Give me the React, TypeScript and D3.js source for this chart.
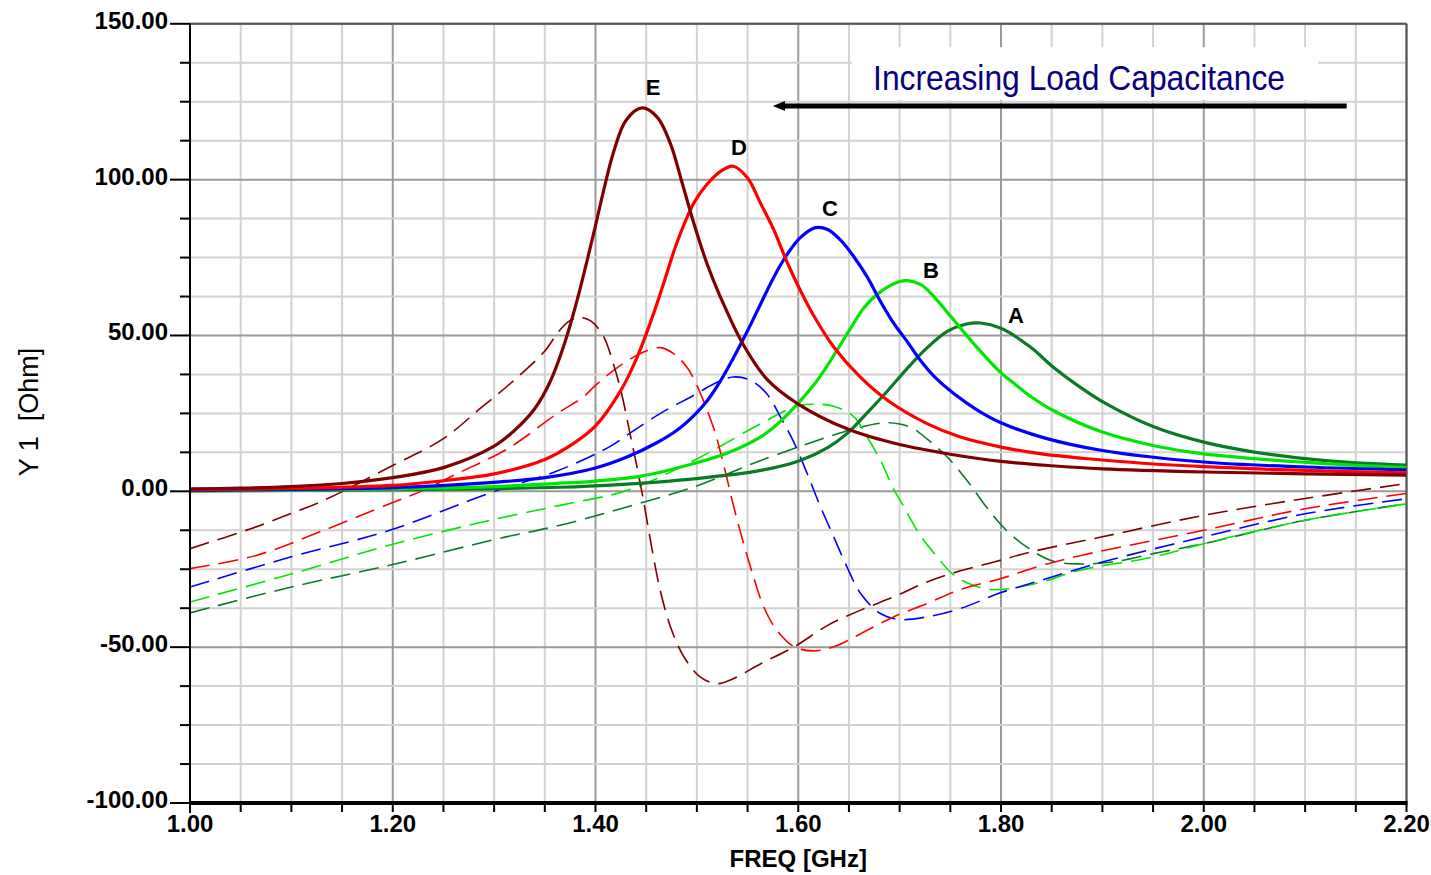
import React from "react";
import * as d3 from "d3";

// ---------- data (freq GHz, Ohm) ----------
const X_TICKS = [1.0, 1.2, 1.4, 1.6, 1.8, 2.0, 2.2];
const Y_TICKS = [-100, -50, 0, 50, 100, 150];

const E_RE: [number, number][] = [
  [1.0, 0.8], [1.05, 1.0], [1.1, 1.5], [1.15, 2.5], [1.2, 4.4], [1.25, 7.6], [1.3, 14.5], [1.32, 19.5],
  [1.34, 26.5], [1.355, 35], [1.37, 48], [1.382, 61.5], [1.398, 82.5], [1.408, 96.5], [1.418, 109], [1.43, 119],
  [1.446, 123], [1.461, 120], [1.474, 111.5], [1.485, 99.5], [1.497, 86], [1.51, 73], [1.523, 62.5],
  [1.545, 47.5], [1.569, 36], [1.6, 28], [1.65, 19.8], [1.7, 15], [1.75, 11.9], [1.8, 9.6],
  [1.85, 8.2], [1.9, 7.2], [2.0, 6.2], [2.1, 5.6], [2.2, 5.2],
];
const D_RE: [number, number][] = [
  [1.0, 0.5], [1.1, 0.9], [1.2, 1.9], [1.25, 3.4], [1.3, 5.6], [1.35, 10.2], [1.378, 15.3], [1.4, 21],
  [1.425, 32.4], [1.441, 43], [1.454, 54], [1.467, 66.5], [1.48, 79.5], [1.497, 92.5], [1.51, 98.5],
  [1.523, 102.6], [1.536, 104.3], [1.55, 100.5], [1.563, 92.3], [1.576, 83.8], [1.589, 73.5], [1.602, 64.5],
  [1.615, 56.5], [1.635, 46.3], [1.661, 36.7], [1.688, 29.2], [1.727, 21.7], [1.76, 17.4], [1.8, 14.2],
  [1.84, 12.0], [1.88, 10.6], [1.94, 9.0], [2.0, 7.9], [2.1, 6.7], [2.2, 5.9],
];
const C_RE: [number, number][] = [
  [1.0, 0.3], [1.1, 0.6], [1.2, 1.2], [1.3, 2.9], [1.35, 4.4], [1.4, 7.5], [1.431, 11], [1.46, 15.5],
  [1.48, 19.5], [1.497, 24.3], [1.51, 29], [1.523, 35.3], [1.536, 42.8], [1.55, 51.5], [1.563, 60.2],
  [1.576, 68.8], [1.589, 76], [1.602, 81.4], [1.617, 84.6], [1.629, 84.0], [1.642, 80.5], [1.655, 75.2],
  [1.668, 68.8], [1.681, 61], [1.694, 54], [1.708, 47.8], [1.721, 41.8], [1.734, 36.9], [1.754, 31.2],
  [1.777, 26], [1.8, 22], [1.84, 17.4], [1.9, 13.1], [2.0, 9.4], [2.1, 7.8], [2.2, 6.9],
];
const B_RE: [number, number][] = [
  [1.0, 0.2], [1.1, 0.4], [1.2, 0.8], [1.3, 1.5], [1.36, 2.5], [1.4, 3.3], [1.444, 4.8], [1.497, 8.9],
  [1.53, 12.3], [1.563, 17.5], [1.575, 20.3], [1.589, 24.5], [1.615, 34], [1.629, 40.5], [1.652, 52.5],
  [1.665, 59], [1.681, 64], [1.7, 67.3], [1.708, 67.6], [1.721, 66.3], [1.734, 62.4], [1.752, 55.5],
  [1.773, 47.4], [1.8, 38], [1.813, 34.6], [1.829, 30.5], [1.851, 26], [1.9, 19], [1.95, 14.7],
  [2.0, 12], [2.1, 9.3], [2.2, 7.6],
];
const A_RE: [number, number][] = [
  [1.0, 0.1], [1.1, 0.3], [1.2, 0.5], [1.3, 0.8], [1.365, 1.3], [1.415, 2.0], [1.497, 4.0], [1.563, 6.7],
  [1.602, 9.9], [1.629, 14], [1.648, 18.5], [1.668, 25.2], [1.688, 32.2], [1.708, 39.6], [1.727, 46],
  [1.747, 51.3], [1.765, 53.6], [1.78, 54], [1.8, 52.3], [1.829, 46.3], [1.851, 40], [1.879, 33.2],
  [1.9, 28.8], [1.95, 20.8], [2.0, 15.8], [2.05, 12.6], [2.1, 10.5], [2.15, 9.1], [2.2, 8.4],
];

const E_IM: [number, number][] = [
  [1.0, -18.4], [1.06, -12], [1.095, -7.7], [1.132, -2.9], [1.197, 7.8], [1.25, 16.9], [1.286, 26.5],
  [1.316, 34.6], [1.35, 45], [1.363, 51], [1.374, 54.6], [1.385, 55.8], [1.396, 54.5], [1.408, 49.6],
  [1.418, 40.5], [1.426, 31], [1.434, 18.6], [1.443, 4.5], [1.449, -6], [1.456, -19], [1.464, -32],
  [1.474, -43.5], [1.487, -53], [1.5035, -59.6], [1.52, -61.7], [1.536, -60.1], [1.563, -55.3],
  [1.596, -49.9], [1.629, -43], [1.661, -38.2], [1.694, -33.9], [1.727, -29.1], [1.76, -25.5],
  [1.793, -22.7], [1.83, -19.4], [1.9, -14.6], [2.0, -7.7], [2.1, -2.3], [2.2, 2.5],
];
const D_IM: [number, number][] = [
  [1.0, -24.8], [1.066, -20.5], [1.132, -12.5], [1.197, -4], [1.23, 0.3], [1.263, 5.6], [1.313, 13.6],
  [1.362, 24.9], [1.388, 30.3], [1.4, 34], [1.425, 40.5], [1.4475, 44.7], [1.464, 46.1], [1.477, 44.2],
  [1.49, 39.9], [1.5, 34], [1.5166, 20.2], [1.5265, 8.4], [1.5364, -5], [1.5463, -17], [1.5545, -26],
  [1.566, -37.1], [1.579, -44.6], [1.596, -49.9], [1.615, -51.2], [1.635, -49.9], [1.6615, -45.7],
  [1.694, -40.3], [1.727, -36], [1.76, -31.5], [1.8, -28], [1.84, -23.8], [1.88, -20.5], [2.0, -12.5],
  [2.1, -5.6], [2.2, -0.7],
];
const C_IM: [number, number][] = [
  [1.0, -30.7], [1.099, -21.1], [1.197, -12.5], [1.296, -0.5], [1.362, 6.5], [1.415, 14.5], [1.431, 18],
  [1.464, 25], [1.497, 30.8], [1.517, 34.5], [1.536, 36.7], [1.553, 35.6], [1.569, 31.3], [1.5825, 23.8],
  [1.5956, 15.8], [1.6088, 5.7], [1.622, -5], [1.635, -14.6], [1.648, -24.2], [1.6615, -32.8],
  [1.681, -39.2], [1.699, -41.1], [1.727, -40.3], [1.76, -37.6], [1.8, -32.5], [1.839, -28.6],
  [1.9, -22.7], [2.0, -14.6], [2.1, -7.2], [2.2, -2.4],
];
const B_IM: [number, number][] = [
  [1.0, -35.5], [1.1, -26.5], [1.2, -17], [1.3, -9], [1.365, -4.5], [1.431, 0.3], [1.497, 9.9],
  [1.563, 21.7], [1.596, 27], [1.615, 28], [1.638, 27], [1.655, 23.9], [1.668, 17.4], [1.681, 10],
  [1.694, 0.8], [1.7025, -4], [1.72, -14], [1.737, -21], [1.752, -26.5], [1.77, -29.8], [1.79, -31.5],
  [1.81, -31.2], [1.839, -29.2], [1.878, -25.3], [1.95, -21.1], [2.0, -16.8], [2.1, -9.3], [2.2, -4.0],
];
const A_IM: [number, number][] = [
  [1.0, -39], [1.1, -30.7], [1.2, -23.5], [1.3, -15.5], [1.365, -10.9], [1.431, -5], [1.497, 1.4],
  [1.563, 9.9], [1.629, 17.4], [1.6615, 20.6], [1.685, 22], [1.7, 21.6], [1.714, 20], [1.727, 16.8],
  [1.747, 11], [1.7667, 3.4], [1.786, -5.2], [1.806, -12.7], [1.826, -18], [1.85, -22.3], [1.8785, -23.3],
  [1.91, -22.7], [1.95, -20], [2.0, -16.8], [2.1, -9.3], [2.2, -4.0],
];

const SERIES = [
  { name: "A", color: "#0b7a26", re: A_RE, im: A_IM, label: [1.8148, 56.6] },
  { name: "B", color: "#00e600", re: B_RE, im: B_IM, label: [1.731, 71.0] },
  { name: "C", color: "#0000ff", re: C_RE, im: C_IM, label: [1.6313, 90.9] },
  { name: "D", color: "#ff0000", re: D_RE, im: D_IM, label: [1.5416, 110.5] },
  { name: "E", color: "#7f0000", re: E_RE, im: E_IM, label: [1.4567, 129.7] },
];

const ANNOTATION = "Increasing Load Capacitance";
const X_TITLE = "FREQ [GHz]";
const Y_TITLE = "Y 1  [Ohm]";

export default function App() {
  const W = 1431;
  const H = 875;
  const x = d3.scaleLinear().domain([1.0, 2.2]).range([190, 1406.5]);
  const y = d3.scaleLinear().domain([-100, 150]).range([803, 23.8]);
  const line = d3
    .line<[number, number]>()
    .x((d) => x(d[0]))
    .y((d) => y(d[1]))
    .curve(d3.curveCatmullRom.alpha(0.5));

  const xMinor = d3.range(1.0, 2.2001, 0.05);
  const yMinor = d3.range(-100, 150.001, 12.5);
  const font = "'Liberation Sans', Arial, sans-serif";
  const [x0, x1] = x.range();
  const [y0, y1] = y.range();

  return (
    <svg
      width={W}
      height={H}
      style={{ position: "absolute", left: 0, top: 0, background: "#fff" }}
      fontFamily={font}
    >
      <defs>
        <clipPath id="plot">
          <rect x={x0} y={y1} width={x1 - x0} height={y0 - y1} />
        </clipPath>
      </defs>
      <rect x={0} y={0} width={W} height={H} fill="#fff" />
      {/* grid */}
      {xMinor.map((v, i) => (
        <line key={"gx" + i} x1={x(v)} x2={x(v)} y1={y1} y2={y0}
          stroke={i % 4 === 0 ? "#9a9a9a" : "#d2d2d2"} strokeWidth={2} />
      ))}
      {yMinor.map((v, i) => (
        <line key={"gy" + i} x1={x0} x2={x1} y1={y(v)} y2={y(v)}
          stroke={i % 4 === 0 ? "#9a9a9a" : "#d2d2d2"} strokeWidth={2} />
      ))}
      {/* frame */}
      <line x1={x0} x2={x1} y1={y1} y2={y1} stroke="#555" strokeWidth={2} />
      <line x1={x1} x2={x1} y1={y1} y2={y0} stroke="#555" strokeWidth={2} />

      {/* annotation box behind curves */}
      <rect x={x(1.653)} y={y(142.5)} width={x(2.1127) - x(1.653)} height={y(125.5) - y(142.5)} fill="#fff" />

      <g clipPath="url(#plot)">
        {SERIES.map((s) => (
          <path key={"im" + s.name} d={line(s.im) || ""} fill="none" stroke={s.color}
            strokeWidth={1.6} strokeDasharray="20,9" />
        ))}
        {SERIES.map((s) => (
          <path key={"re" + s.name} d={line(s.re) || ""} fill="none" stroke={s.color}
            strokeWidth={3.2} strokeLinejoin="round" />
        ))}
      </g>

      {/* annotation text & arrow */}
      <text x={x(1.877)} y={y(128.7)} textAnchor="middle" fontSize={35} fill="#0a0080"
        textLength={412} lengthAdjust="spacingAndGlyphs">{ANNOTATION}</text>
      <line x1={x(2.141)} x2={x(1.585)} y1={y(123.6)} y2={y(123.6)} stroke="#000" strokeWidth={5} />
      <path d={`M${x(1.575)},${y(123.6)} l12,-5 l0,10 z`} fill="#000" />

      {/* curve labels */}
      {SERIES.map((s) => (
        <text key={"lb" + s.name} x={x(s.label[0])} y={y(s.label[1])} dy="0.36em"
          textAnchor="middle" fontSize={22} fontWeight="bold" fill="#000">{s.name}</text>
      ))}

      {/* axes */}
      <line x1={x0} x2={x0} y1={y1} y2={y0 + 10} stroke="#000" strokeWidth={2} />
      <line x1={x0} x2={x1 + 1} y1={y0} y2={y0} stroke="#000" strokeWidth={4} />
      {yMinor.map((v, i) => (
        <line key={"yt" + i} x1={i % 4 === 0 ? x0 - 20 : x0 - 10} x2={x0} y1={y(v)} y2={y(v)}
          stroke="#000" strokeWidth={2} />
      ))}
      {xMinor.map((v, i) => (
        <line key={"xt" + i} x1={x(v)} x2={x(v)} y1={y0} y2={y0 + 9} stroke="#000" strokeWidth={2} />
      ))}
      {Y_TICKS.map((v) => (
        <text key={"yl" + v} x={x0 - 22} y={y(v) + 5} textAnchor="end" fontSize={24}
          fontWeight="bold" fill="#000">{v.toFixed(2)}</text>
      ))}
      {X_TICKS.map((v) => (
        <text key={"xl" + v} x={x(v)} y={832} textAnchor="middle" fontSize={24}
          fontWeight="bold" fill="#000">{v.toFixed(2)}</text>
      ))}
      <text x={(x0 + x1) / 2} y={867} textAnchor="middle" fontSize={24} fontWeight="bold" fill="#000">
        {X_TITLE}
      </text>
      <text transform={`translate(38,${412}) rotate(-90)`} textAnchor="middle" fontSize={27}
        fill="#000" xmlSpace="preserve" style={{ whiteSpace: "pre" }}>{Y_TITLE}</text>
    </svg>
  );
}
